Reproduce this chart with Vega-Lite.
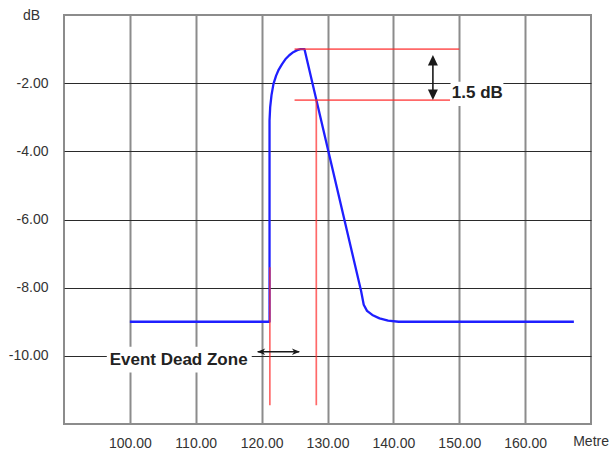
{
  "$schema": "https://vega.github.io/schema/vega-lite/v6.json",
  "width": 527,
  "height": 409,
  "autosize": {"type": "none"},
  "padding": {"left": 64, "top": 15, "right": 18, "bottom": 26},
  "background": "white",
  "config": {
    "view": {"stroke": "#8c8c8c", "strokeWidth": 2},
    "font": "Liberation Sans"
  },
  "datasets": {
    "trace": [
      {"i": 0, "m": 100.0, "db": -9.0},
      {"i": 1, "m": 121.2, "db": -9.0},
      {"i": 2, "m": 121.2, "db": -3.1},
      {"i": 3, "m": 121.3, "db": -2.7},
      {"i": 4, "m": 121.5, "db": -2.35},
      {"i": 5, "m": 121.8, "db": -2.02},
      {"i": 6, "m": 122.2, "db": -1.78},
      {"i": 7, "m": 122.6, "db": -1.6},
      {"i": 8, "m": 123.1, "db": -1.44},
      {"i": 9, "m": 123.6, "db": -1.3},
      {"i": 10, "m": 124.2, "db": -1.18},
      {"i": 11, "m": 124.8, "db": -1.09},
      {"i": 12, "m": 125.4, "db": -1.03},
      {"i": 13, "m": 125.9, "db": -1.0},
      {"i": 14, "m": 126.5, "db": -1.0},
      {"i": 15, "m": 135.1, "db": -8.1},
      {"i": 16, "m": 135.5, "db": -8.5},
      {"i": 17, "m": 136.0, "db": -8.68},
      {"i": 18, "m": 136.8, "db": -8.8},
      {"i": 19, "m": 137.9, "db": -8.9},
      {"i": 20, "m": 139.2, "db": -8.97},
      {"i": 21, "m": 140.8, "db": -9.0},
      {"i": 22, "m": 167.4, "db": -9.0}
    ],
    "markers": [
      {"m": 125.0, "m2": 150.0, "db": -1.0, "db2": -1.0},
      {"m": 125.0, "m2": 148.6, "db": -2.5, "db2": -2.5},
      {"m": 128.3, "m2": 128.3, "db": -2.5, "db2": -11.45},
      {"m": 121.25, "m2": 121.25, "db": -7.4, "db2": -11.45}
    ],
    "labelBoxes": [
      {"m": 148.68, "m2": 156.7, "db": -1.96, "db2": -2.67},
      {"m": 96.5, "m2": 118.5, "db": -9.73, "db2": -10.49}
    ],
    "shafts": [
      {"m": 146.0, "m2": 146.0, "db": -1.33, "db2": -2.34},
      {"m": 119.4, "m2": 125.7, "db": -9.88, "db2": -9.88}
    ],
    "heads": [
      {"m": 146.0, "db": -1.33, "dir": "up"},
      {"m": 146.0, "db": -2.34, "dir": "down"},
      {"m": 119.94, "db": -9.88, "dir": "left"},
      {"m": 125.2, "db": -9.88, "dir": "right"}
    ],
    "notes": [
      {"m": 152.75, "db": -2.3, "label": "1.5 dB"},
      {"m": 107.4, "db": -10.12, "label": "Event Dead Zone"}
    ]
  },
  "encoding": {
    "x": {
      "field": "m",
      "type": "quantitative",
      "scale": {"domain": [90, 170], "nice": false, "zero": false},
      "axis": {
        "title": "Metre",
        "values": [100, 110, 120, 130, 140, 150, 160],
        "labelExpr": "format(datum.value, '.2f')",
        "domain": false,
        "ticks": false,
        "grid": true,
        "gridColor": "#8c8c8c",
        "gridWidth": 2,
        "gridOpacity": 1,
        "labelFont": "Liberation Sans",
        "labelFontSize": 14,
        "labelColor": "#333333",
        "labelPadding": 12,
        "titleFont": "Liberation Sans",
        "titleFontSize": 14,
        "titleFontWeight": "normal",
        "titleColor": "#333333",
        "titleAnchor": null,
        "titleAlign": "left",
        "titleBaseline": "top",
        "titleX": 508.7,
        "titleY": 10
      }
    },
    "y": {
      "field": "db",
      "type": "quantitative",
      "scale": {"domain": [-12, 0], "nice": false, "zero": false},
      "axis": {
        "title": "dB",
        "values": [-10, -8, -6, -4, -2],
        "labelExpr": "(datum.value < 0 ? '-' : '') + format(abs(datum.value), '.2f')",
        "domain": false,
        "ticks": false,
        "grid": true,
        "gridColor": "#2a2a2a",
        "gridWidth": 1.2,
        "gridOpacity": 1,
        "labelFont": "Liberation Sans",
        "labelFontSize": 14,
        "labelColor": "#333333",
        "labelPadding": 16,
        "titleFont": "Liberation Sans",
        "titleFontSize": 14,
        "titleFontWeight": "normal",
        "titleColor": "#333333",
        "titleAngle": 0,
        "titleAnchor": null,
        "titleAlign": "center",
        "titleBaseline": "middle",
        "titleX": -33,
        "titleY": 0
      }
    }
  },
  "layer": [
    {
      "data": {"name": "trace"},
      "mark": {"type": "line", "color": "#1f1fff", "strokeWidth": 2.3, "strokeJoin": "round"},
      "encoding": {"order": {"field": "i", "type": "quantitative"}}
    },
    {
      "data": {"name": "markers"},
      "mark": {"type": "rule", "color": "#ff2a2a", "opacity": 0.7, "strokeWidth": 1.7},
      "encoding": {
        "x2": {"field": "m2"},
        "y2": {"field": "db2"}
      }
    },
    {
      "data": {"name": "labelBoxes"},
      "mark": {"type": "rect", "color": "white", "opacity": 1},
      "encoding": {
        "x2": {"field": "m2"},
        "y2": {"field": "db2"}
      }
    },
    {
      "data": {"name": "shafts"},
      "mark": {"type": "rule", "color": "#1a1a1a", "strokeWidth": 1.6},
      "encoding": {
        "x2": {"field": "m2"},
        "y2": {"field": "db2"}
      }
    },
    {
      "data": {"name": "heads"},
      "transform": [{"filter": "datum.dir === 'up'"}],
      "mark": {"type": "point", "shape": "M0,-1L0.95,1L-0.95,1Z", "size": 110, "filled": true, "color": "#1a1a1a", "opacity": 1}
    },
    {
      "data": {"name": "heads"},
      "transform": [{"filter": "datum.dir === 'down'"}],
      "mark": {"type": "point", "shape": "M0,1L0.95,-1L-0.95,-1Z", "size": 110, "filled": true, "color": "#1a1a1a", "opacity": 1}
    },
    {
      "data": {"name": "heads"},
      "transform": [{"filter": "datum.dir === 'left'"}],
      "mark": {"type": "point", "shape": "M-1,0L1,-0.8L0.4,0L1,0.8Z", "size": 64, "filled": true, "color": "#1a1a1a", "opacity": 1}
    },
    {
      "data": {"name": "heads"},
      "transform": [{"filter": "datum.dir === 'right'"}],
      "mark": {"type": "point", "shape": "M1,0L-1,-0.8L-0.4,0L-1,0.8Z", "size": 64, "filled": true, "color": "#1a1a1a", "opacity": 1}
    },
    {
      "data": {"name": "notes"},
      "mark": {"type": "text", "font": "Liberation Sans", "fontSize": 17, "fontWeight": "bold", "color": "#222222", "align": "center", "baseline": "middle"},
      "encoding": {"text": {"field": "label"}}
    }
  ]
}
